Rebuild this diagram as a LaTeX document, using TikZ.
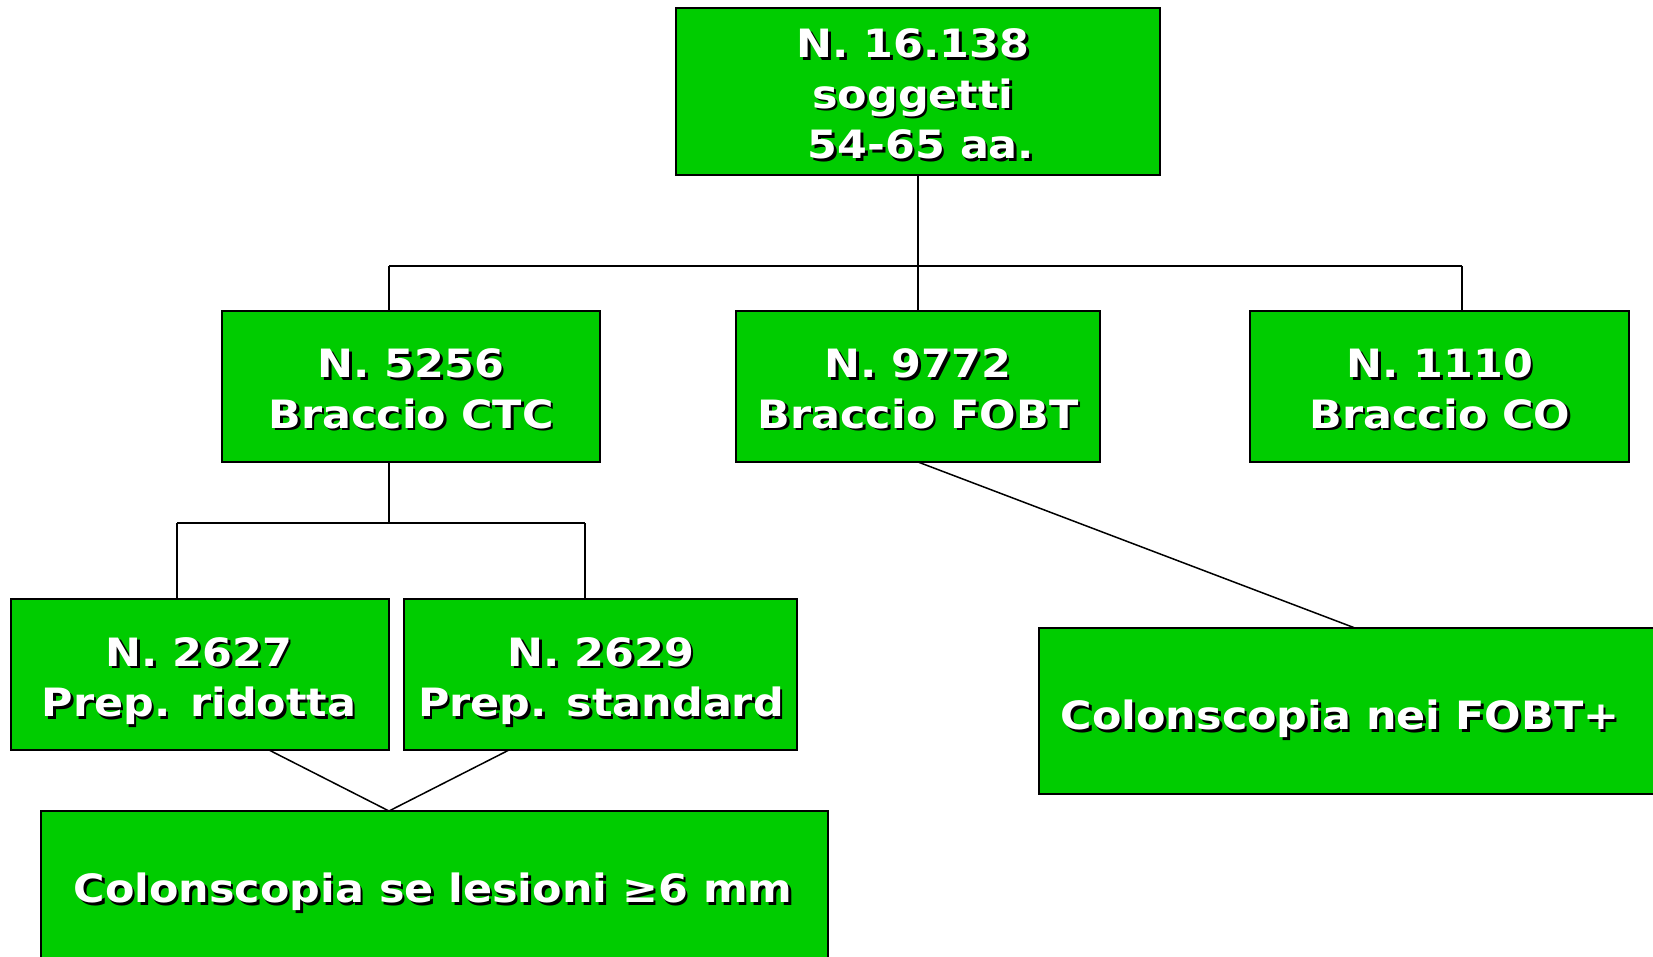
\documentclass[tikz,border=0pt]{standalone}
\usepackage{fontspec}
\newfontfamily\wideb[FakeStretch=1.1]{DejaVu Sans}[BoldFont=* Bold]
\usetikzlibrary{calc}
\definecolor{boxgreen}{RGB}{0,204,0}
\tikzset{
  box/.style={draw=black, line width=1.8pt, fill=boxgreen, inner sep=0pt, outer sep=0pt, anchor=north west},
  wtxt/.style={text=white, align=center, inner sep=0pt, font=\wideb\bfseries\fontsize{39}{50.5}\selectfont},
  conn/.style={draw=black, line width=1.5pt},
}
\newcommand\shtext[3]{%
  \node[#1, text=black] at ([shift={(2.5pt,-2.5pt)}]#2) {#3};%
  \node[#1] at (#2) {#3};}
\begin{document}
\begin{tikzpicture}[x=1pt,y=-1pt]
\useasboundingbox (0,0) rectangle (1653,957);
% boxes
\node[box, minimum width=484pt, minimum height=167pt] (top) at (676,8) {};
\node[box, minimum width=378pt, minimum height=151pt] (ctc) at (222,311) {};
\node[box, minimum width=364pt, minimum height=151pt] (fobt) at (736,311) {};
\node[box, minimum width=379pt, minimum height=151pt] (co) at (1250,311) {};
\node[box, minimum width=378pt, minimum height=151pt] (p1) at (11,599) {};
\node[box, minimum width=393pt, minimum height=151pt] (p2) at (404,599) {};
\node[box, minimum width=787pt, minimum height=170pt] (col) at (41,811) {};
\node[box, minimum width=640pt, minimum height=166pt] (fpos) at (1039,628) {};
% texts
\coordinate (ttop) at (913,94);
\coordinate (tctc) at (411,389);
\coordinate (tfobt) at (918,389);
\coordinate (tco) at (1440,389);
\coordinate (tp1) at (199,681);
\coordinate (tp2) at (601,681);
\coordinate (tcol) at (433,892);
\coordinate (tfpos) at (1340,719);
\shtext{wtxt}{ttop}{N. 16.138\\soggetti\\\hspace*{16pt}54-65 aa.}
\shtext{wtxt}{tctc}{N. 5256\\Braccio CTC}
\shtext{wtxt}{tfobt}{N. 9772\\Braccio FOBT}
\shtext{wtxt}{tco}{N. 1110\\Braccio CO}
\shtext{wtxt}{tp1}{N. 2627\\Prep. ridotta}
\shtext{wtxt}{tp2}{N. 2629\\Prep. standard}
\shtext{wtxt}{tcol}{Colonscopia se lesioni ≥6 mm}
\shtext{wtxt}{tfpos}{Colonscopia nei FOBT+}
% connectors
\coordinate (barL) at (389,266);
\coordinate (barR) at (1462,266);
\coordinate (b2) at (389,523);
\coordinate (b2L) at (177,523);
\coordinate (b2R) at (585,523);
\coordinate (p1s) at (269,750);
\coordinate (p2s) at (509,750);
\coordinate (meet) at (389,811);
\coordinate (fp) at (1355,628);
\draw[conn] (top.south) -- (top.south |- barL);
\draw[conn] (barL) -- (barR);
\draw[conn] (barL) -- (barL |- ctc.north);
\draw[conn] (top.south |- barL) -- (fobt.north);
\draw[conn] (barR) -- (barR |- co.north);
\draw[conn] (b2 |- ctc.south) -- (b2);
\draw[conn] (b2L) -- (b2R);
\draw[conn] (b2L) -- (b2L |- p1.north);
\draw[conn] (b2R) -- (b2R |- p2.north);
\draw[conn] (p1s) -- (meet) -- (p2s);
\draw[conn] (fobt.south) -- (fp);
\end{tikzpicture}
\end{document}
